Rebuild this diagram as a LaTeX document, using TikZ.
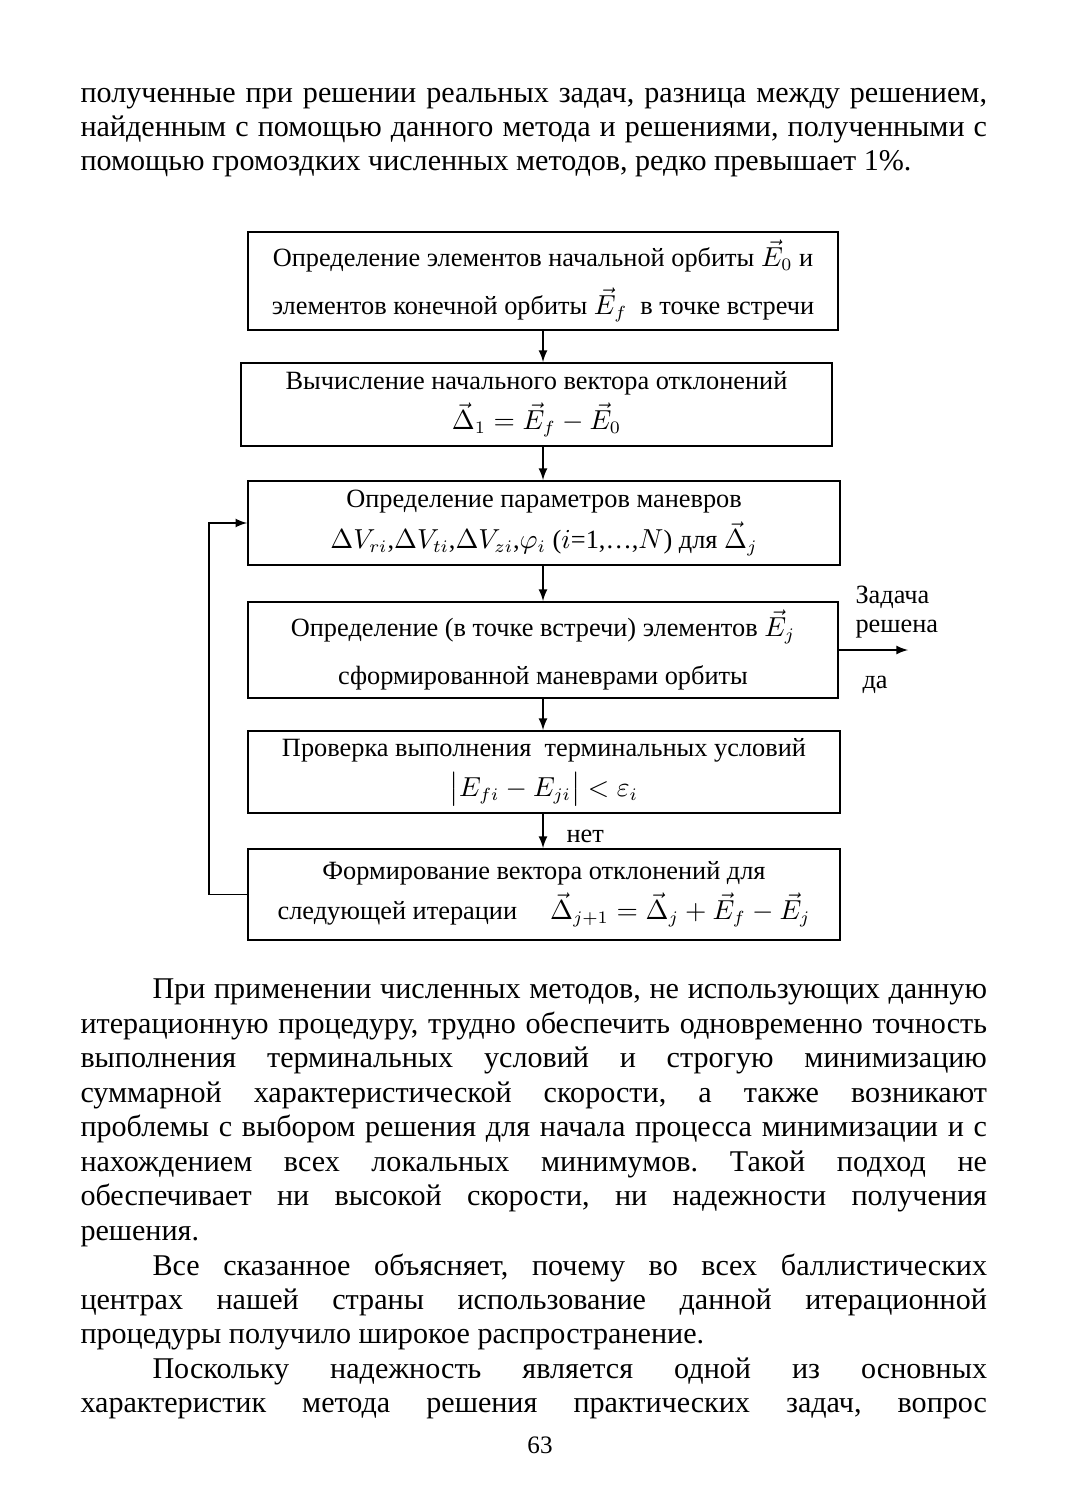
\documentclass[tikz,border=0pt]{standalone}
\usepackage{amsmath}
\usepackage{fontspec}
\setmainfont{Liberation Serif}
\usepackage{tikz}
\usetikzlibrary{positioning}
\frenchspacing

\begin{document}
\begin{tikzpicture}[x=0.014cm, y=-0.014cm,
    every node/.style={inner sep=0pt},
    blok/.style={draw, line width=0.8pt, align=center, inner sep=1pt,
      font=\fontsize{10.5}{16}\selectfont},
    txtline/.style={anchor=mid west, font=\fontsize{12}{14}\selectfont},
    arr/.style={-latex, line width=0.6pt},
    lbl/.style={font=\fontsize{10.5}{13}\selectfont}]
  \useasboundingbox[fill=white] (0,0) rectangle (1067,1500);

  % Text above
  \node[txtline] (t1) at (80,97) {\makebox[12.698cm][s]{полученные при решении реальных задач, разница между решением,}};
  \node[txtline] (t2) at (80,131) {\makebox[12.698cm][s]{найденным с помощью данного метода и решениями, полученными с}};
  \node[txtline] (t3) at (80,165) {помощью громоздких численных методов, редко превышает 1\%.};

  % Blocks
  \node[blok, minimum width=8.26cm, minimum height=1.372cm] (b1) at (543,281)
    {Определение элементов начальной орбиты $\vec{E}_0$ и\\[3pt]
     элементов конечной орбиты $\vec{E}_f$ \ в точке встречи};
  \node[blok, minimum width=8.274cm, minimum height=1.162cm] (b2) at (536.5,404.5)
    {Вычисление начального вектора отклонений\\
     $\vec{\Delta}_1 = \vec{E}_f - \vec{E}_0$};
  \node[blok, minimum width=8.288cm, minimum height=1.176cm] (b3) at (544,523)
    {Определение параметров маневров\\
     $\Delta V_{ri}$,$\Delta V_{ti}$,$\Delta V_{zi}$,$\varphi_i$ ($i$=1,\ldots,$N$) для $\vec{\Delta}_j$};
  \node[blok, minimum width=8.26cm, minimum height=1.344cm] (b4) at (543,650)
    {Определение (в точке встречи) элементов $\vec{E}_j$\\[3pt]
     сформированной маневрами орбиты};
  \node[blok, minimum width=8.288cm, minimum height=1.148cm] (b5) at (544,772)
    {Проверка выполнения \ терминальных условий\\
     $\bigl|E_{fi} - E_{ji}\bigr| < \varepsilon_i$};
  \node[blok, minimum width=8.288cm, minimum height=1.274cm] (b6) at (544,894.5)
    {Формирование вектора отклонений для\\
     следующей итерации \quad $\vec{\Delta}_{j+1} = \vec{\Delta}_j + \vec{E}_f - \vec{E}_j$};

  % Labels
  \node[lbl, anchor=west] (net) at (566,836) {нет};
  \node[lbl, anchor=west] (zad) at (855,597) {Задача};
  \node[lbl, anchor=west] (resh) at (855,629) {решена};
  \node[lbl, anchor=west] (da) at (862,685) {да};
  \coordinate (out) at (908,650);

  % Arrows
  \draw[arr] (b1.south) -- (b1.south |- b2.north);
  \draw[arr] (b2.south -| b1.south) -- (b3.north -| b1.south);
  \draw[arr] (b3.south -| b1.south) -- (b4.north -| b1.south);
  \draw[arr] (b4.south -| b1.south) -- (b5.north -| b1.south);
  \draw[arr] (b5.south -| b1.south) -- (b6.north -| b1.south);
  \draw[arr] (b4.east) -- (out);
  \draw[arr] (b6.west) -- ++(-38,0) |- (b3.west);

  % Text below
  \node[txtline] (p1) at (152,993) {\makebox[11.69cm][s]{При применении численных методов, не использующих данную}};
  \node[txtline] (p2) at (80,1028) {\makebox[12.698cm][s]{итерационную процедуру, трудно обеспечить одновременно точность}};
  \node[txtline] (p3) at (80,1062) {\makebox[12.698cm][s]{выполнения терминальных условий и строгую минимизацию}};
  \node[txtline] (p4) at (80,1097) {\makebox[12.698cm][s]{суммарной характеристической скорости, а также возникают}};
  \node[txtline] (p5) at (80,1131) {\makebox[12.698cm][s]{проблемы с выбором решения для начала процесса минимизации и с}};
  \node[txtline] (p6) at (80,1166) {\makebox[12.698cm][s]{нахождением всех локальных минимумов. Такой подход не}};
  \node[txtline] (p7) at (80,1200) {\makebox[12.698cm][s]{обеспечивает ни высокой скорости, ни надежности получения}};
  \node[txtline] (p8) at (80,1235) {решения.};
  \node[txtline] (q1) at (152,1270) {\makebox[11.69cm][s]{Все сказанное объясняет, почему во всех баллистических}};
  \node[txtline] (q2) at (80,1304) {\makebox[12.698cm][s]{центрах нашей страны использование данной итерационной}};
  \node[txtline] (q3) at (80,1338) {процедуры получило широкое распространение.};
  \node[txtline] (r1) at (152,1373) {\makebox[11.69cm][s]{Поскольку надежность является одной из основных}};
  \node[txtline] (r2) at (80,1407) {\makebox[12.698cm][s]{характеристик метода решения практических задач, вопрос}};
  \node[font=\fontsize{10}{12}\selectfont] (pg) at (540,1445) {63};
\end{tikzpicture}
\end{document}
